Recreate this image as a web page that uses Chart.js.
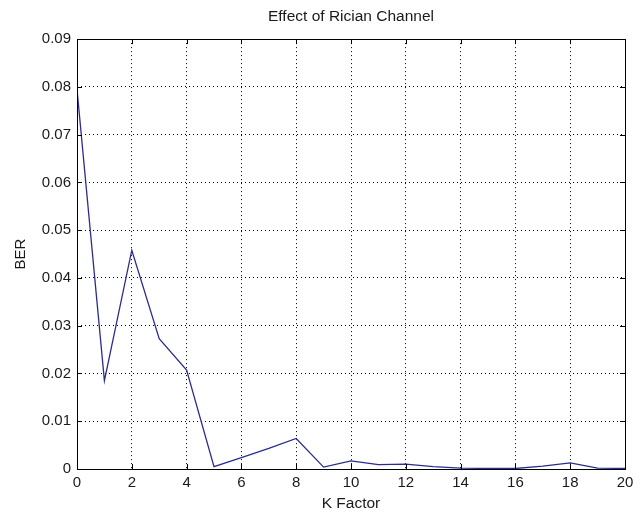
<!DOCTYPE html>
<html>
<head>
<meta charset="utf-8">
<title>Effect of Rician Channel</title>
<script src="https://cdn.jsdelivr.net/npm/chart.js@4.4.1/dist/chart.umd.min.js"></script>
<style>
  html, body { margin: 0; padding: 0; background: #fff; }
  #wrap { width: 644px; height: 513px; }
</style>
</head>
<body>
<div id="wrap"><canvas id="ricianChart" width="644" height="513"></canvas></div>
<script>
// K factor values and the measured bit error rate at each one
const kFactor = [0, 1, 2, 3, 4, 5, 6, 7, 8, 9, 10, 11, 12, 13, 14, 15, 16, 17, 18, 19, 20];
const ber = [0.0795, 0.0185, 0.0458, 0.0273, 0.0207, 0.0005, 0.0024, 0.0043, 0.0064,
             0.0004, 0.0017, 0.0009, 0.0010, 0.0005, 0.0002, 0.0001, 0.0001, 0.0006,
             0.0013, 0.0002, 0.0001];

// axis ranges and tick steps
const xTicks = { min: 0, max: 20, step: 2 };
const yTicks = { min: 0, max: 0.09, step: 0.01 };

const points = kFactor.map((k, i) => ({ x: k, y: ber[i] }));

const txt = '#1a1a1a';
const font = { family: '"Liberation Sans", Arial, sans-serif', size: 15 };

// axes box plus short inward tick marks on every side
const axesBox = {
    id: 'axesBox',
    afterDatasetsDraw(chart) {
        const { ctx, chartArea: a, scales: { x, y } } = chart;
        const len = 5;
        ctx.save();
        ctx.strokeStyle = '#000';
        ctx.lineWidth = 1;
        ctx.beginPath();
        for (let v = xTicks.min; v <= xTicks.max; v += xTicks.step) {
            const px = Math.round(x.getPixelForValue(v)) + 0.5;
            ctx.moveTo(px, a.bottom); ctx.lineTo(px, a.bottom - len);
            ctx.moveTo(px, a.top); ctx.lineTo(px, a.top + len);
        }
        for (let i = 0; i <= Math.round((yTicks.max - yTicks.min) / yTicks.step); i++) {
            const py = Math.round(y.getPixelForValue(yTicks.min + i * yTicks.step)) + 0.5;
            ctx.moveTo(a.left, py); ctx.lineTo(a.left + len, py);
            ctx.moveTo(a.right, py); ctx.lineTo(a.right - len, py);
        }
        ctx.stroke();
        ctx.strokeRect(Math.round(a.left) + 0.5, Math.round(a.top) + 0.5,
                       Math.round(a.right - a.left), Math.round(a.bottom - a.top));
        ctx.restore();
    }
};

new Chart(document.getElementById('ricianChart'), {
    type: 'line',
    data: {
        datasets: [{
            data: points,
            borderColor: '#2c2c90',
            borderWidth: 1.3,
            pointRadius: 0,
            tension: 0,
            fill: false
        }]
    },
    options: {
        responsive: false,
        animation: false,
        layout: { padding: { left: 0, right: 19, top: 0, bottom: 0 } },
        plugins: {
            legend: { display: false },
            tooltip: { enabled: false },
            title: {
                display: true,
                text: 'Effect of Rician Channel',
                color: txt,
                fullSize: false,
                font: { ...font, size: 15.5, weight: 'normal' },
                padding: { top: 7.5, bottom: 13 }
            }
        },
        scales: {
            x: {
                type: 'linear',
                min: xTicks.min,
                max: xTicks.max,
                afterFit(scale) { scale.height = 44; },
                ticks: {
                    stepSize: xTicks.step,
                    color: txt,
                    font: font,
                    padding: 5,
                    maxRotation: 0,
                    autoSkip: false
                },
                grid: { color: '#000', lineWidth: 1, drawTicks: false },
                border: { display: false, dash: [1, 3] },
                title: {
                    display: true,
                    text: 'K Factor',
                    color: txt,
                    font: { ...font, size: 15.5 },
                    padding: { top: 0, bottom: 0 }
                }
            },
            y: {
                type: 'linear',
                min: yTicks.min,
                max: yTicks.max,
                afterFit(scale) { scale.width = 77; },
                ticks: {
                    stepSize: yTicks.step,
                    color: txt,
                    font: font,
                    padding: 6,
                    autoSkip: false,
                    callback: v => (v === 0 ? '0' : v.toFixed(2))
                },
                grid: { color: '#000', lineWidth: 1, drawTicks: false },
                border: { display: false, dash: [1, 3] },
                title: {
                    display: true,
                    text: 'BER',
                    color: txt,
                    font: font,
                    padding: { top: 12, bottom: 0 }
                }
            }
        }
    },
    plugins: [axesBox]
});
</script>
</body>
</html>
